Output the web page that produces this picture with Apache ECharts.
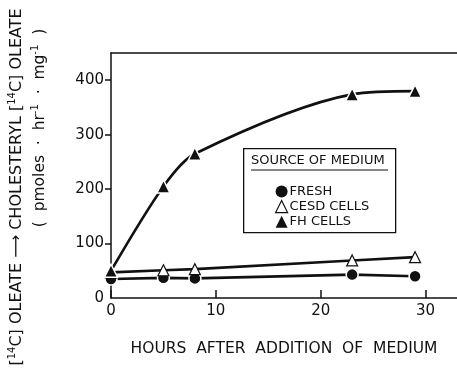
<!DOCTYPE html>
<html>
<head>
<meta charset="utf-8">
<script src="https://cdn.jsdelivr.net/npm/echarts@6/dist/echarts.min.js"></script>
<style>
  html, body { margin: 0; padding: 0; background: #fff; }
  #chart { width: 457px; height: 373px; }
</style>
</head>
<body>
<div id="chart"></div>
<script>
// Hours after addition of medium
const hours = [0, 5, 8, 23, 29];
// Esterification rate, pmoles/hr/mg
const fresh = [35, 37, 36, 43, 40];
const cesdCells = [47, 51, 53, 69, 75];
const fhCells = [50, 205, 265, 374, 380];

const xTicks = [0, 10, 20, 30];
const yTicks = [0, 100, 200, 300, 400];

const FONT = 'DejaVu Sans';
const INK = '#111';

const pair = (xs, ys) => xs.map((x, i) => [x, ys[i]]);

const chart = echarts.init(document.getElementById('chart'), null, { renderer: 'canvas' });

const lineCommon = {
  type: 'line',
  symbolSize: 13,
  lineStyle: { color: INK, width: 2.6 },
  emphasis: { disabled: true },
  z: 3
};

const supStyle = { fontSize: 10, fontFamily: FONT, verticalAlign: 'top', lineHeight: 20, fill: INK };

chart.setOption({
  animation: false,
  backgroundColor: '#fff',
  grid: { left: 111, top: 53, right: 0, bottom: 75 },
  xAxis: [{
    type: 'value', min: 0, max: 33, interval: 10,
    axisLine: { lineStyle: { color: INK, width: 1.5 } },
    axisTick: { inside: true, length: 8, customValues: xTicks, lineStyle: { color: INK, width: 1.5 } },
    axisLabel: { customValues: xTicks, color: INK, fontFamily: FONT, fontSize: 15, margin: 6 },
    splitLine: { show: false },
    name: 'HOURS  AFTER  ADDITION  OF  MEDIUM',
    nameLocation: 'middle', nameGap: 43,
    nameTextStyle: { color: INK, fontFamily: FONT, fontSize: 15.5 }
  }, {
    type: 'value', position: 'top', min: 0, max: 33,
    axisLine: { show: true, onZero: false, lineStyle: { color: INK, width: 1.5 } },
    axisTick: { show: false }, axisLabel: { show: false }, splitLine: { show: false }
  }],
  yAxis: {
    type: 'value', min: 0, max: 450, interval: 100,
    axisLine: { show: true, lineStyle: { color: INK, width: 1.5 } },
    axisTick: { show: true, length: 6, customValues: yTicks.slice(1), lineStyle: { color: INK, width: 1.5 } },
    axisLabel: { customValues: yTicks, color: INK, fontFamily: FONT, fontSize: 15, margin: 7 },
    splitLine: { show: false }
  },
  legend: {
    orient: 'vertical', left: 270, top: 180, z: 20,
    itemWidth: 12, itemHeight: 12, itemGap: 2,
    textStyle: { color: INK, fontFamily: FONT, fontSize: 13, padding: [0, 0, 0, -3] },
    data: [
      { name: 'FRESH', icon: 'circle', itemStyle: { borderWidth: 0 } },
      { name: 'CESD CELLS', icon: 'triangle', itemStyle: { borderWidth: 1.2 } },
      { name: 'FH CELLS', icon: 'triangle', itemStyle: { borderWidth: 0 } }
    ]
  },
  graphic: [
    { type: 'rect', left: 243, top: 148, shape: { width: 152, height: 84 },
      style: { fill: '#fff', stroke: INK, lineWidth: 1.3 }, z: 10 },
    { type: 'text', left: 251, top: 154,
      style: { text: 'SOURCE OF MEDIUM', font: '13px "DejaVu Sans"', fill: INK }, z: 11 },
    { type: 'line', shape: { x1: 251, y1: 170, x2: 388, y2: 170 },
      style: { stroke: INK, lineWidth: 1 }, z: 11 },
    { type: 'text', x: 17, y: 187, rotation: Math.PI / 2,
      style: {
        text: '[{s|14}C] OLEATE ⟶ CHOLESTERYL [{s|14}C] OLEATE',
        align: 'center', verticalAlign: 'middle',
        font: '16px "DejaVu Sans"', fill: INK,
        rich: { s: supStyle }
      } },
    { type: 'text', x: 40, y: 128, rotation: Math.PI / 2,
      style: {
        text: '(  pmoles  ·  hr{s|-1}  ·  mg{s|-1}  )',
        align: 'center', verticalAlign: 'middle',
        font: '15.5px "DejaVu Sans"', fill: INK,
        rich: { s: supStyle }
      } }
  ],
  series: [
    Object.assign({}, lineCommon, {
      name: 'FRESH', data: pair(hours, fresh), symbol: 'circle', symbolSize: 12,
      itemStyle: { color: INK, borderColor: '#fff', borderWidth: 1.5 }
    }),
    Object.assign({}, lineCommon, {
      name: 'CESD CELLS', data: pair(hours, cesdCells), symbol: 'triangle', symbolSize: 11,
      itemStyle: { color: '#fff', borderColor: INK, borderWidth: 1.2 }
    }),
    Object.assign({}, lineCommon, {
      name: 'FH CELLS', data: pair(hours, fhCells), symbol: 'triangle', smooth: 0.3,
      itemStyle: { color: INK, borderColor: '#fff', borderWidth: 1.5 }
    })
  ]
});
</script>
</body>
</html>
